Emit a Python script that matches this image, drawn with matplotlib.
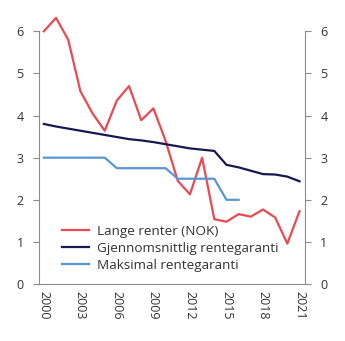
import numpy as np
import matplotlib.pyplot as plt

plt.rcParams['font.family'] = ['Open Sans', 'DejaVu Sans']

years = np.arange(2000, 2022)
lange_renter = [6.00, 6.32, 5.80, 4.58, 4.05, 3.64, 4.36, 4.70, 3.89, 4.17, 3.40,
                2.45, 2.13, 3.00, 1.54, 1.48, 1.66, 1.60, 1.77, 1.58, 0.96, 1.73]
snitt_garanti = [3.80, 3.74, 3.69, 3.64, 3.59, 3.54, 3.49, 3.44, 3.41, 3.37, 3.32,
                 3.27, 3.22, 3.19, 3.16, 2.83, 2.77, 2.69, 2.61, 2.60, 2.55, 2.44]
maks_years = np.arange(2000, 2017)
maks_garanti = [3.0, 3.0, 3.0, 3.0, 3.0, 3.0, 2.75, 2.75, 2.75, 2.75, 2.75,
                2.5, 2.5, 2.5, 2.5, 2.0, 2.0]
xticks = [2000, 2003, 2006, 2009, 2012, 2015, 2018, 2021]

fig = plt.figure(figsize=(3.45, 3.41), dpi=100)
ax = fig.add_axes([0.113, 0.167, 0.771, 0.803])

ax.plot(years, lange_renter, color='#e94a53', lw=1.6, label='Lange renter (NOK)')
ax.plot(years, snitt_garanti, color='#17194f', lw=1.6, label='Gjennomsnittlig rentegaranti')
ax.plot(maks_years, maks_garanti, color='#5b95d3', lw=1.6, label='Maksimal rentegaranti')

ax.set_xlim(1999.6, 2021.45)
ax.set_ylim(0, 6.5)
ax.set_yticks(range(7))
ax.set_xticks(xticks)
ax.set_xticklabels([str(x) for x in xticks], rotation=270)

gray = '#8c8c8c'
for s in ['left', 'right', 'bottom']:
    ax.spines[s].set_color(gray)
    ax.spines[s].set_linewidth(0.8)
ax.spines['top'].set_visible(False)
ax.spines['left'].set_bounds(0, 6)
ax.spines['right'].set_bounds(0, 6)

ax.tick_params(axis='y', which='both', left=True, right=True, labelleft=True,
               labelright=True, direction='out', length=4, color=gray,
               labelsize=9, labelcolor='#333333', pad=7)
ax.tick_params(axis='x', length=0, labelsize=9, labelcolor='#333333', pad=5)

ax.legend(loc='lower left', bbox_to_anchor=(0.055, 0.015), frameon=False,
          fontsize=9.7, handlelength=2.0, handletextpad=0.6, labelspacing=0.3,
          borderaxespad=0.2, labelcolor='#333333')

fig.savefig('out.png', dpi=100)
